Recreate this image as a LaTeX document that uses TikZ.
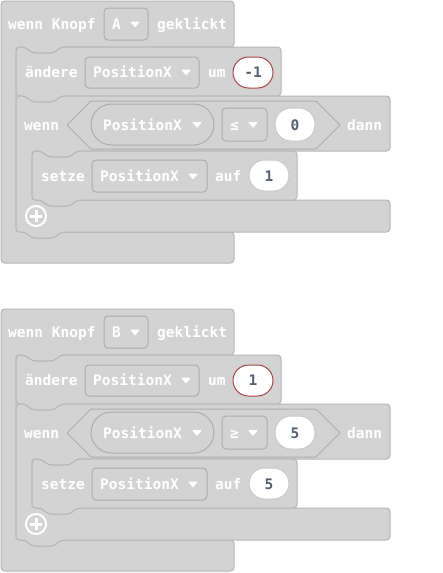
\documentclass[tikz,border=0pt]{standalone}
\usepackage{fontspec}
\newfontfamily\blkfont{DejaVu Sans Mono}
\definecolor{blk}{HTML}{D3D3D3}
\definecolor{blkline}{HTML}{B6B6B6}
\definecolor{ddline}{HTML}{ADADAD}
\definecolor{numtxt}{HTML}{575E75}
\definecolor{redb}{HTML}{A64747}
\definecolor{ovline}{HTML}{C9C9C9}
\tikzset{
  blockshape/.style={fill=blk, draw=blkline, line width=1pt, rounded corners=3.5pt},
  ddbox/.style={fill=blk, draw=ddline, line width=1pt, rounded corners=4pt},
  hexshape/.style={fill=blk, draw=ddline, line width=1pt, rounded corners=1pt},
  lbl/.style={anchor=base west, inner sep=0pt, text=white, font=\blkfont\bfseries\fontsize{14.5}{16}\selectfont},
  numlbl/.style={anchor=base, inner sep=0pt, text=numtxt, font=\blkfont\bfseries\fontsize{14.5}{16}\selectfont},
  ovalw/.style={fill=white, draw=ovline, line width=1pt},
  ovalr/.style={fill=white, draw=redb, line width=1pt},
  plusline/.style={draw=white, line width=2pt},
}
\newcommand\ddarrow[2]{\fill[white, rounded corners=0.8pt] (#1-5,#2-3) -- (#1+5,#2-3) -- (#1,#2+3) -- cycle;}
\newcommand\blockgroup[7]{%
\begin{scope}[yshift=-#7pt]
% hat block with statement input
\draw[blockshape] (1,130) -- (1,1) -- (234,1) -- (234,47) -- (61,47) -- (54,53) -- (32,53) -- (25,47) -- (16,47)
  -- (16,232) -- (25,232) -- (32,238) -- (54,238) -- (61,232) -- (234,232) -- (234,263) -- (1,263) -- cycle;
% aendere block
\draw[blockshape] (16,72) -- (16,47) -- (25,47) -- (32,53) -- (54,53) -- (61,47) -- (281,47) -- (281,96)
  -- (61,96) -- (54,102) -- (32,102) -- (25,96) -- (16,96) -- cycle;
% if block
\draw[blockshape] (16,120) -- (16,96) -- (25,96) -- (32,102) -- (54,102) -- (61,96) -- (390,96) -- (390,151)
  -- (77,151) -- (70,157) -- (48,157) -- (41,151) -- (32,151) -- (32,200) -- (41,200) -- (48,206) -- (70,206) -- (77,200)
  -- (390,200) -- (390,232) -- (61,232) -- (54,238) -- (32,238) -- (25,232) -- (16,232) -- cycle;
% setze block
\draw[blockshape] (32,175) -- (32,151) -- (41,151) -- (48,157) -- (70,157) -- (77,151) -- (297,151) -- (297,200)
  -- (77,200) -- (70,206) -- (48,206) -- (41,200) -- (32,200) -- cycle;
% hat row
\node[lbl] (#1hat) at (8,29.8) {wenn Knopf};
\draw[ddbox] (104,8) rectangle (148,40);
\node[lbl] (#1key) at (112,29.8) {#2};
\ddarrow{135}{24.5}
\node[lbl] (#1klick) at (157,29.8) {geklickt};
% aendere row
\node[lbl] (#1aend) at (25,77.8) {ändere};
\draw[ddbox] (85,57) rectangle (199,88);
\node[lbl] (#1var1) at (93,77.8) {PositionX};
\ddarrow{186}{72.5}
\node[lbl] (#1um) at (208,77.8) {um};
\draw[ovalr, rounded corners=15.5pt] (233,57) rectangle (273,88);
\node[numlbl] (#1numa) at (253,77.8) {#3};
% wenn row
\node[lbl] (#1wenn) at (24,130.3) {wenn};
\draw[hexshape] (67,125) -- (91,101) -- (316,101) -- (340,125) -- (316,149) -- (91,149) -- cycle;
\draw[ddbox, rounded corners=20.5pt] (91,104) rectangle (214,145);
\node[lbl] (#1var2) at (103,130.3) {PositionX};
\ddarrow{197}{125}
\draw[ddbox] (222,108) rectangle (267,141);
\node[lbl] (#1op) at (230,130.3) {#4};
\ddarrow{253}{125}
\draw[ovalw, rounded corners=16pt] (275,108) rectangle (315,141);
\node[numlbl] (#1numb) at (295,130.3) {#5};
\node[lbl] (#1dann) at (347,130.3) {dann};
% setze row
\node[lbl] (#1setze) at (41,181.8) {setze};
\draw[ddbox] (92,160) rectangle (207,192);
\node[lbl] (#1var3) at (100,181.8) {PositionX};
\ddarrow{193}{176.5}
\node[lbl] (#1auf) at (215,181.8) {auf};
\draw[ovalw, rounded corners=15.5pt] (249,160) rectangle (289,191);
\node[numlbl] (#1numc) at (269,181.8) {#6};
% plus icon
\draw[plusline] (36,216) circle (10);
\draw[draw=white, line width=3pt] (30,216) -- (42,216) (36,210) -- (36,222);
\end{scope}}
\begin{document}
\begin{tikzpicture}[x=1pt, y=-1pt]
\useasboundingbox (0,0) rectangle (442,573);
\blockgroup{g1}{A}{-1}{≤}{0}{1}{0}
\blockgroup{g2}{B}{1}{≥}{5}{5}{308}
\end{tikzpicture}
\end{document}
